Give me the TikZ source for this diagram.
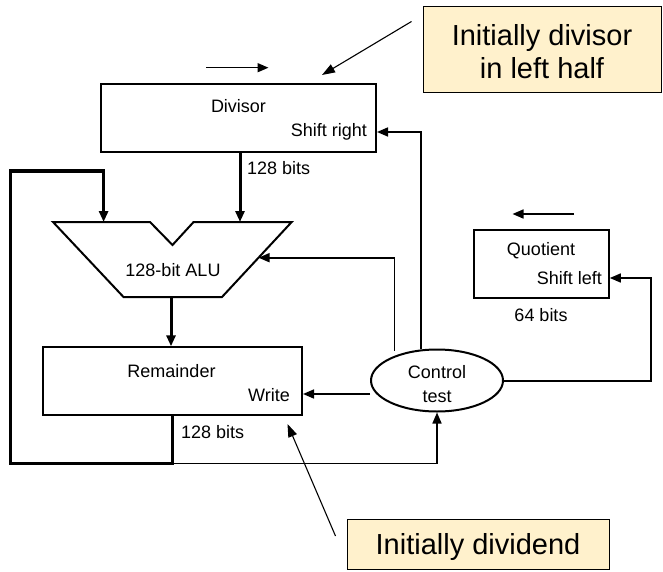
\documentclass[tikz,border=0pt]{standalone}
\usepackage{fontspec}
\setmainfont{Liberation Sans}
\usetikzlibrary{arrows.meta,shapes.geometric}
\definecolor{notefill}{RGB}{255,241,204}
\begin{document}
\begin{tikzpicture}[x=1pt,y=-1pt,
  reg/.style={draw,line width=2pt,minimum width=#1,minimum height=68pt,inner sep=0pt},
  lbl/.style={font=\fontsize{18}{21}\selectfont,inner sep=0pt},
  note/.style={draw,line width=1pt,fill=notefill,inner sep=0pt,font=\fontsize{29}{33}\selectfont,align=center},
  tip/.style={-{Triangle[length=11pt,width=9pt]}},
  thin/.style={line width=1.6pt},
  bold/.style={line width=3pt},
  pointer/.style={line width=1.1pt,-{Triangle[length=13pt,width=9pt]}}]
\path[use as bounding box] (0,0) rectangle (663,572);

% registers
\node[reg=275pt] (div) at (238.5,118.3) {};
\node[lbl] (divt) at (238.5,106) {Divisor};
\node[lbl,anchor=east] (divs) at (367,132) {Shift right};
\node[lbl,anchor=west] (divb) at (247,168) {128 bits};

\node[reg=259pt] (rem) at (172.5,381.3) {};
\node[lbl] (remt) at (171.5,371) {Remainder};
\node[lbl,anchor=east] (remw) at (290,395) {Write};
\node[lbl,anchor=west] (remb) at (181,432) {128 bits};

\node[reg=135pt] (quo) at (541.3,263.8) {};
\node[lbl] (quot) at (541,251) {Quotient};
\node[lbl,anchor=east] (quos) at (602,278) {Shift left};
\node[lbl] (quob) at (541,315) {64 bits};

\node[draw,ellipse,line width=2pt,minimum width=132pt,minimum height=62pt,inner sep=0pt] (ctl) at (437,380.5) {};
\node[font=\fontsize{18}{24}\selectfont,align=center,inner sep=0pt] (ctlt) at (437,384) {Control\\test};

% ALU
\coordinate (a1) at (53,222);
\coordinate (a2) at (150,222);
\coordinate (a3) at (172.5,245);
\coordinate (a4) at (193.6,222);
\coordinate (a5) at (291.7,222);
\coordinate (a6) at (222,297);
\coordinate (a7) at (123.5,297);
\draw[line width=2pt,line join=miter] (a1) -- (a2) -- (a3) -- (a4) -- (a5) -- (a6) -- (a7) -- cycle;
\node[lbl] (alut) at (173,270) {128-bit ALU};
\coordinate (ain1) at (103.6,222);
\coordinate (ain2) at (240,222);
\coordinate (aout) at (171,297);
\coordinate (aside) at (258.5,257.7);

% data paths
\draw[bold,tip] (div.south -| ain2) -- (ain2);
\draw[bold,tip] (aout) -- (aout |- rem.north);
\coordinate (loopL) at (10.6,463.3);
\coordinate (loopT) at (10.6,171);
\coordinate (remdn) at (172,463.3);
\draw[bold,line join=miter,tip] (rem.south -| remdn) -- (remdn) -- (loopL) -- (loopT) -- (loopT -| ain1) -- (ain1);
\draw[thin,tip] (remdn) -- (remdn -| ctl.south) -- (ctl.south);

% control lines
\coordinate (c1) at (394.5,0);
\coordinate (c2) at (420.7,0);
\draw[thin,tip] (ctl.west |- 0,394) -- (rem.east |- 0,394);
\draw[thin,tip] (ctl.north -| c1) ++(0,2) -- (c1 |- aside) -- (aside);
\draw[thin,tip] (ctl.north -| c2) -- (c2 |- divs) -- (div.east |- divs);
\coordinate (qr) at (651,381);
\draw[thin,tip] (ctl.east |- qr) -- (qr) -- (qr |- quos) -- (quo.east |- quos);

% shift direction arrows
\coordinate (sr1) at (206,67.7);
\coordinate (sr2) at (268.5,67.7);
\draw[thin,tip] (sr1) -- (sr2);
\coordinate (sl1) at (574,214);
\coordinate (sl2) at (512.5,214);
\draw[thin,tip] (sl1) -- (sl2);

% notes
\node[note,minimum width=238pt,minimum height=86pt] (n1) at (542,50) {};
\node[font=\fontsize{29}{33}\selectfont,align=center,inner sep=0pt] (n1t) at (542,52) {Initially divisor\\in left half};
\coordinate (n1p) at (322,75);
\draw[pointer] (n1.north west) ++(-11,15) -- (n1p);
\node[note,minimum width=262pt,minimum height=50pt,text depth=0pt] (n2) at (478,544) {Initially dividend};
\coordinate (n2p) at (287.5,424);
\draw[pointer] (n2.west) ++(-11,-8) -- (n2p);
\end{tikzpicture}
\end{document}
